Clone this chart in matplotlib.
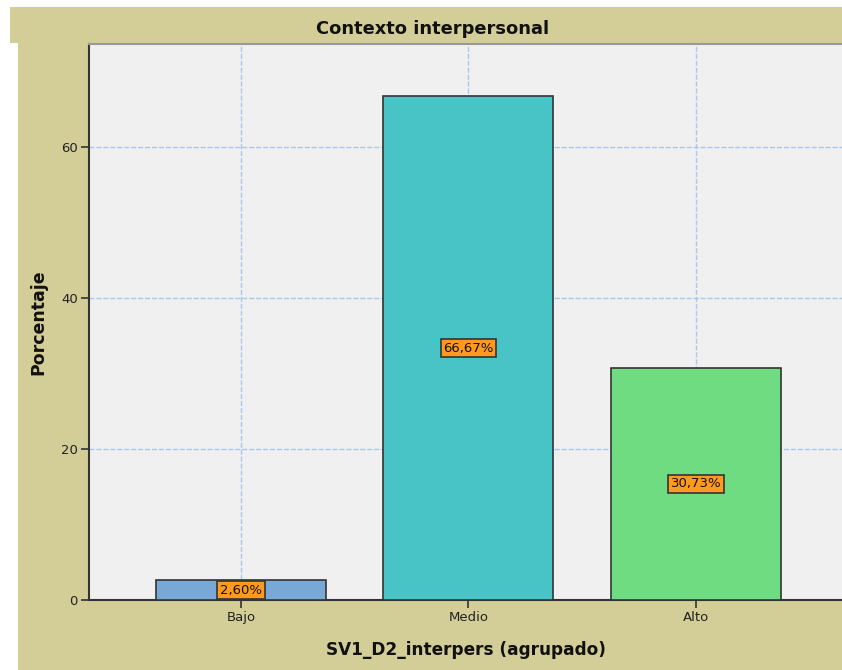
import matplotlib
matplotlib.use("Agg")
import matplotlib.pyplot as plt
from matplotlib.patches import Rectangle

categories = ["Bajo", "Medio", "Alto"]
values = [2.60, 66.67, 30.73]
labels = ["2,60%", "66,67%", "30,73%"]
colors = ["#78A8D6", "#48C3C6", "#70DC82"]
yticks = [0, 20, 40, 60]

W, H = 842, 670
fig = plt.figure(figsize=(W / 100, H / 100), dpi=100)
fig.patch.set_facecolor("white")

beige = "#D3CE97"
# title band
fig.add_artist(Rectangle((10 / W, 1 - 43 / H), 1 - 10 / W, 36 / H,
                         transform=fig.transFigure, facecolor=beige, edgecolor="none", zorder=-10))
# body
fig.add_artist(Rectangle((18 / W, 0), 1 - 18 / W, 1 - 43 / H,
                         transform=fig.transFigure, facecolor=beige, edgecolor="none", zorder=-10))

ax = fig.add_axes([89 / W, 70 / H, 1 - 89 / W, (600 - 44) / H])
ax.set_facecolor("#F0F0F0")

x = list(range(len(categories)))
ax.bar(x, values, width=0.747, color=colors, edgecolor="#333333", linewidth=1.2, zorder=3)
for xi, v, lab in zip(x, values, labels):
    ax.text(xi, v / 2, lab, ha="center", va="center", fontsize=9.5, color="#111111", zorder=5,
            bbox=dict(boxstyle="square,pad=0.2", facecolor="#FF9A1E", edgecolor="#333333", linewidth=1.2))

ax.set_xlim(-0.668, 2.642)
ax.set_ylim(0, 73.6)
ax.set_xticks(x)
ax.set_xticklabels(categories, fontsize=9.5, color="#222222")
ax.set_yticks(yticks)
ax.set_yticklabels([str(t) for t in yticks], fontsize=9.5, color="#222222")
ax.tick_params(axis="both", direction="out", length=6, width=1.2, color="#333333", pad=2)
ax.grid(True, color="#A6C9EC", linestyle=(0, (3.6, 1.4)), linewidth=1.0, zorder=1)
ax.set_axisbelow(True)

ax.spines["right"].set_visible(False)
ax.spines["left"].set_color("#333333")
ax.spines["left"].set_linewidth(1.5)
ax.spines["bottom"].set_color("#333333")
ax.spines["bottom"].set_linewidth(1.5)
ax.spines["top"].set_color("#999999")
ax.spines["top"].set_linewidth(1.5)

ax.set_xlabel("SV1_D2_interpers (agrupado)", fontsize=12.2, fontweight="bold", labelpad=12, color="#111111")
ax.set_ylabel("Porcentaje", fontsize=12.5, fontweight="bold", labelpad=10, color="#111111")
fig.text(433 / W, 1 - 29 / H, "Contexto interpersonal", ha="center", va="center",
         fontsize=12.9, fontweight="bold", color="#111111")

fig.savefig("out.png", dpi=100, facecolor=fig.get_facecolor())
